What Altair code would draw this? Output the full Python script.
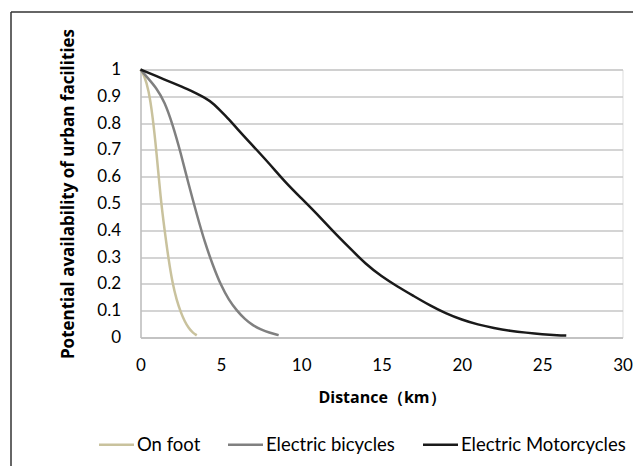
import altair as alt
import pandas as pd

foot_x = [0, 0.25, 0.5, 0.75, 1.0, 1.25, 1.5, 1.75, 2.0, 2.25, 2.5, 2.75, 3.0, 3.25, 3.5]
foot_y = [1.0, 0.975, 0.925, 0.83, 0.69, 0.52, 0.40, 0.29, 0.20, 0.14, 0.095, 0.06, 0.035, 0.018, 0.008]

bike_x = [0, 0.5, 1.0, 1.5, 2.0, 2.5, 3.0, 3.5, 4.0, 4.5, 5.0, 5.5, 6.0, 6.5, 7.0, 7.5, 8.0, 8.6]
bike_y = [1.0, 0.965, 0.93, 0.88, 0.795, 0.69, 0.57, 0.46, 0.355, 0.27, 0.195, 0.14, 0.10, 0.068, 0.045, 0.03, 0.018, 0.009]

moto_x = [0, 1, 2, 3, 3.5, 4, 4.5, 5, 5.5, 6, 7, 8, 9, 10, 11, 12, 13, 14, 15, 16, 17, 18, 19, 20, 21, 22, 23, 24, 25, 26, 26.5]
moto_y = [1.0, 0.975, 0.95, 0.925, 0.91, 0.895, 0.875, 0.845, 0.815, 0.78, 0.715, 0.65, 0.58, 0.52, 0.46, 0.395, 0.335, 0.275, 0.228, 0.19, 0.155, 0.12, 0.09, 0.066, 0.048, 0.035, 0.025, 0.018, 0.012, 0.008, 0.007]

series = ["On foot", "Electric bicycles", "Electric Motorcycles"]
colors = ["#c9c29d", "#808080", "#1a1a1a"]

rows = []
for name, xs, ys in [(series[0], foot_x, foot_y), (series[1], bike_x, bike_y), (series[2], moto_x, moto_y)]:
    for x, y in zip(xs, ys):
        rows.append({"mode": name, "distance": x, "avail": y})
df = pd.DataFrame(rows)

FONT = "Lato"
TFONT = "Open Sans"

lines = alt.Chart(df).mark_line(strokeWidth=2.5, interpolate="basis").encode(
    x=alt.X("distance:Q", scale=alt.Scale(domain=[0, 30], nice=False),
            axis=alt.Axis(title="Distance（km）", values=[0, 5, 10, 15, 20, 25, 30],
                          grid=False, ticks=False, domainColor="#bfbfbf", domainWidth=1.5,
                          labelFlush=False, labelPadding=20, labelFontSize=17, labelColor="#000",
                          titleFont=TFONT, titleFontSize=16, titleFontWeight="bold",
                          titlePadding=16, titleColor="#000")),
    y=alt.Y("avail:Q", scale=alt.Scale(domain=[0, 1], nice=False),
            axis=alt.Axis(title="Potential availability of urban facilities",
                          values=[0, 0.1, 0.2, 0.3, 0.4, 0.5, 0.6, 0.7, 0.8, 0.9, 1.0],
                          format="~g", grid=True, gridColor="#c6c6c6", gridWidth=1.5,
                          ticks=False, domainColor="#bfbfbf", domainWidth=1.5,
                          labelFlush=False, labelPadding=20, labelFontSize=17, labelColor="#000",
                          titleFont=TFONT, titleFontSize=17, titleFontWeight="bold", titleColor="#000",
                          titleX=-72, titleY=124, titleAlign="center", titleBaseline="middle")),
    color=alt.Color("mode:N", scale=alt.Scale(domain=series, range=colors),
                    legend=alt.Legend(title=None, orient="none", legendX=-43, legendY=356,
                                      direction="horizontal", symbolType="stroke",
                                      symbolSize=1225, symbolStrokeWidth=2.5,
                                      labelFontSize=18.5, labelColor="#000", labelOffset=1.5,
                                      labelLimit=400, columnPadding=22)),
    order="distance:Q",
)

top_border = alt.Chart(pd.DataFrame({"a": [0]})).mark_rule(color="#333333", strokeWidth=1.5).encode(
    x=alt.value(-129.5), x2=alt.value(700), y=alt.value(-57.5))
left_border = alt.Chart(pd.DataFrame({"a": [0]})).mark_rule(color="#333333", strokeWidth=1.5).encode(
    x=alt.value(-129.5), y=alt.value(-57.5), y2=alt.value(500))

chart = alt.layer(lines, top_border, left_border).properties(
    width=482, height=268,
    autosize=alt.AutoSizeParams(type="none"),
    padding={"left": 132.5, "top": 61.5, "right": 10, "bottom": 128},
).configure_view(stroke=None).configure(font=FONT)

chart.save("out.html", embed_options={"renderer": "svg", "actions": False})
